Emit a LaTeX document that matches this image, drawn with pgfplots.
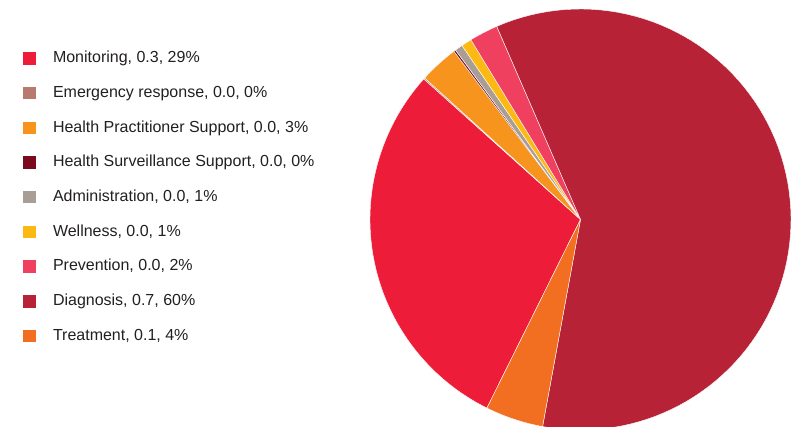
\documentclass[border=0pt]{standalone}
\usepackage{pgfplots}
\pgfplotsset{compat=1.18}
\usepackage{fontspec}
\setmainfont{Liberation Sans}

\definecolor{cMon}{HTML}{ED1C38}
\definecolor{cEme}{HTML}{B87A6E}
\definecolor{cHps}{HTML}{F7941E}
\definecolor{cHss}{HTML}{7B0A1E}
\definecolor{cAdm}{HTML}{A89E96}
\definecolor{cWel}{HTML}{FDB913}
\definecolor{cPre}{HTML}{EF4060}
\definecolor{cDia}{HTML}{B72236}
\definecolor{cTre}{HTML}{F26F22}
\definecolor{txt}{HTML}{231F20}

% start angle of the first slice, slices run clockwise
\def\curang{243.6}
% #1 share in percent, #2 colour, #3 legend text
\newcommand{\slice}[3]{%
  \pgfmathsetmacro{\endang}{\curang-3.6*#1}%
  \edef\doslice{\noexpand\addplot[fill=#2, draw=white, line width=0.4pt,
      domain=\endang:\curang, samples=90]
      ({cos(x)},{sin(x)}) -- (axis cs:0,0) -- cycle;}%
  \doslice
  \addlegendentry{#3}%
  \xdef\curang{\endang}%
}

\begin{document}
\begin{tikzpicture}
\useasboundingbox (0,0) rectangle (799pt,427pt);
\begin{axis}[
  at={(370pt,-3pt)}, anchor=south west,
  scale only axis, width=421pt, height=421pt,
  xmin=-1, xmax=1, ymin=-1, ymax=1,
  hide axis, clip=false,
  legend image code/.code={\fill[#1, draw=none] (0pt,-6pt) rectangle (13pt,6.5pt);},
  legend cell align=left,
  legend style={at={(axis description cs:-0.8242,0.8998)}, anchor=north west,
    draw=none, fill=none, inner sep=0pt, outer sep=0pt,
    font=\fontsize{16}{18}\selectfont, text=txt,
    row sep=19.7pt, column sep=17pt,
    nodes={inner sep=0pt, text height=11.5pt, text depth=3.5pt}},
]
\slice{29.3}{cMon}{Monitoring, 0.3, 29\%}
\slice{0.1}{cEme}{Emergency response, 0.0, 0\%}
\slice{3.0}{cHps}{Health Practitioner Support, 0.0, 3\%}
\slice{0.15}{cHss}{Health Surveillance Support, 0.0, 0\%}
\slice{0.6}{cAdm}{Administration, 0.0, 1\%}
\slice{0.8}{cWel}{Wellness, 0.0, 1\%}
\slice{2.2}{cPre}{Prevention, 0.0, 2\%}
\slice{59.4}{cDia}{Diagnosis, 0.7, 60\%}
\slice{4.45}{cTre}{Treatment, 0.1, 4\%}
\end{axis}
\end{tikzpicture}
\end{document}
